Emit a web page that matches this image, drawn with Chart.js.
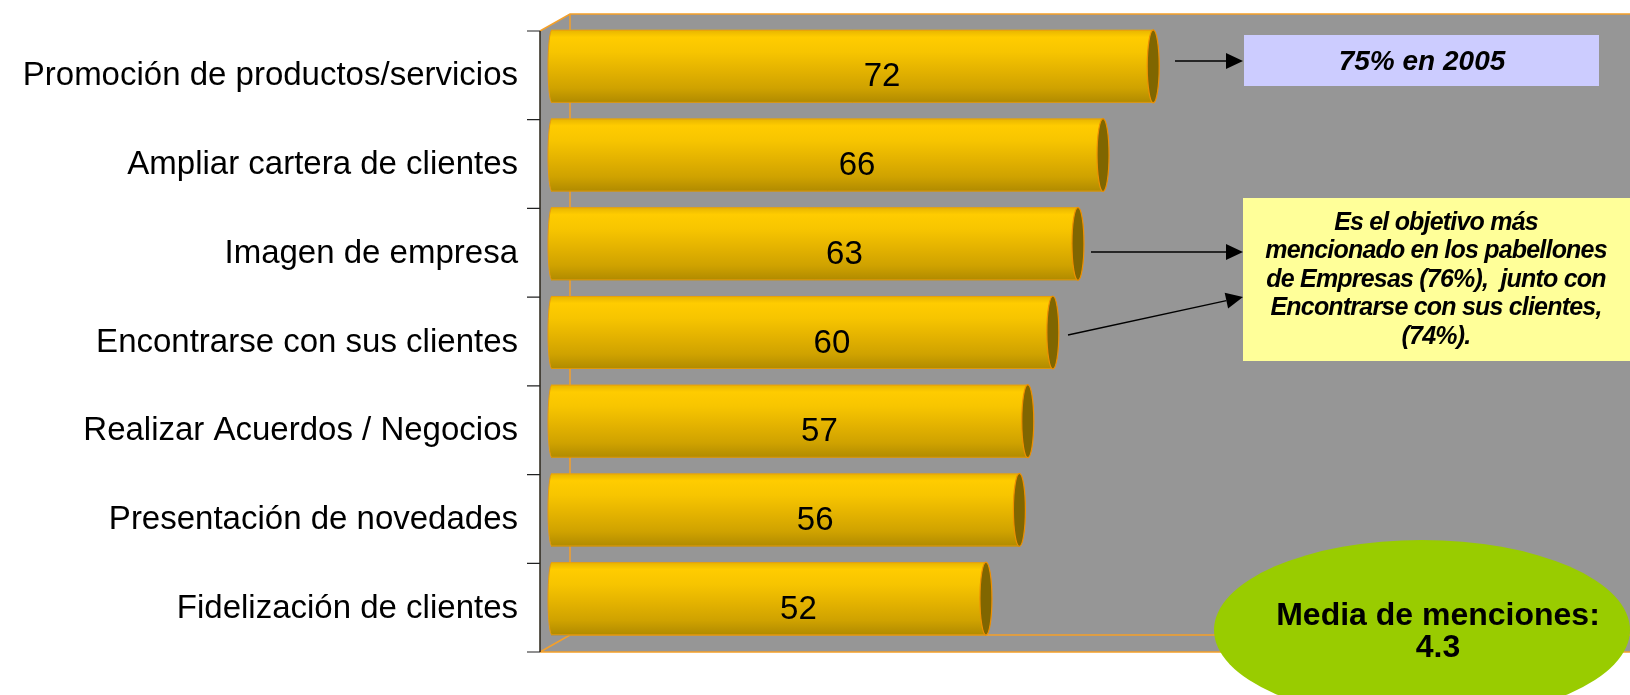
<!DOCTYPE html>
<html>
<head>
<meta charset="utf-8">
<script src="https://cdn.jsdelivr.net/npm/chart.js@4.4.1/dist/chart.umd.min.js"></script>
<style>
  html, body { margin: 0; padding: 0; background: #ffffff; }
  #c { display: block; }
</style>
</head>
<body>
<canvas id="c" width="1630" height="695"></canvas>
<script>
// Objetivos de participación (% de menciones)
const categories = [
  'Promoción de productos/servicios',
  'Ampliar cartera de clientes',
  'Imagen de empresa',
  'Encontrarse con sus clientes',
  'Realizar Acuerdos / Negocios',
  'Presentación de novedades',
  'Fidelización de clientes'
];
const values = [72, 66, 63, 60, 57, 56, 52];
const axisMax = 129;

const noteTop = '75% en 2005';
const noteSide = [
  'Es el objetivo más',
  'mencionado en los pabellones',
  'de Empresas (76%),  junto con',
  'Encontrarse con sus clientes,',
  '(74%).'
];
const meanLines = ['Media de menciones:', '4.3'];

const FONT = '"Liberation Sans", Arial, Helvetica, sans-serif';
const BAR_PCT = 0.823;
const WALL_GREY = '#969696';
const EDGE_ORANGE = '#F5A028';

function barGradient(ctx2d, yTop, yBot) {
  const g = ctx2d.createLinearGradient(0, yTop, 0, yBot);
  g.addColorStop(0.00, '#E6B400');
  g.addColorStop(0.10, '#FFCC00');
  g.addColorStop(0.30, '#F7C500');
  g.addColorStop(0.55, '#E4B300');
  g.addColorStop(0.80, '#CFA200');
  g.addColorStop(1.00, '#B08A00');
  return g;
}

function barFill(context) {
  const chart = context.chart;
  const ys = chart.scales.y;
  if (!ys || context.dataIndex === undefined || ys.bottom === undefined) return '#F2C200';
  const yc = ys.getPixelForValue(context.dataIndex);
  const h = (ys.bottom - ys.top) / categories.length * BAR_PCT;
  return barGradient(chart.ctx, yc - h / 2, yc + h / 2);
}

// 3-D box: back wall, side wall, floor, axis line and tick marks
const wallsPlugin = {
  id: 'walls',
  beforeDatasetsDraw(chart) {
    const ctx = chart.ctx;
    const a = chart.chartArea;
    const W = chart.width;
    const fx = a.left - 11, bx = a.left + 19;
    const ft = a.top + 9, bt = a.top - 8;
    const fb = a.bottom + 9, bb = a.bottom - 8;
    ctx.save();
    ctx.fillStyle = WALL_GREY;
    ctx.beginPath();
    ctx.moveTo(fx, ft); ctx.lineTo(bx, bt); ctx.lineTo(W, bt);
    ctx.lineTo(W, fb); ctx.lineTo(fx, fb); ctx.closePath();
    ctx.fill();

    ctx.strokeStyle = EDGE_ORANGE;
    ctx.lineWidth = 1.5;
    ctx.beginPath();
    ctx.moveTo(fx, ft); ctx.lineTo(bx, bt); ctx.lineTo(W, bt);
    ctx.moveTo(bx, bt); ctx.lineTo(bx, bb); ctx.lineTo(W, bb);
    ctx.moveTo(fx, fb); ctx.lineTo(bx, bb);
    ctx.moveTo(fx, fb); ctx.lineTo(W, fb);
    ctx.stroke();

    ctx.strokeStyle = '#2a2418';
    ctx.lineWidth = 1.5;
    ctx.beginPath();
    ctx.moveTo(fx, ft); ctx.lineTo(fx, fb);
    ctx.stroke();

    ctx.strokeStyle = '#222222';
    ctx.lineWidth = 1.2;
    ctx.beginPath();
    const n = categories.length;
    for (let i = 0; i <= n; i++) {
      const y = ft + (fb - ft) * i / n;
      ctx.moveTo(fx - 13, y); ctx.lineTo(fx, y);
    }
    ctx.stroke();
    ctx.restore();
  }
};

// Cylinder ends and value labels
const cylinderPlugin = {
  id: 'cylinder',
  afterDatasetsDraw(chart) {
    const ctx = chart.ctx;
    const meta = chart.getDatasetMeta(0);
    ctx.save();
    meta.data.forEach((el, i) => {
      const h = el.height;
      const top = el.y - h / 2, bot = el.y + h / 2;
      const base = el.base, x = el.x;

      // rounded near end
      ctx.beginPath();
      ctx.moveTo(base + 1, top);
      ctx.ellipse(base + 1, el.y, 4, h / 2, 0, -Math.PI / 2, Math.PI / 2, true);
      ctx.closePath();
      ctx.fillStyle = barGradient(ctx, top, bot);
      ctx.fill();
      ctx.strokeStyle = '#E89A10';
      ctx.lineWidth = 1;
      ctx.beginPath();
      ctx.ellipse(base + 1, el.y, 4, h / 2, 0, -Math.PI / 2, Math.PI / 2, true);
      ctx.stroke();

      // outline along the top and bottom
      ctx.strokeStyle = 'rgba(232,154,16,0.8)';
      ctx.beginPath();
      ctx.moveTo(base + 1, top + 0.5); ctx.lineTo(x, top + 0.5);
      ctx.moveTo(base + 1, bot - 0.5); ctx.lineTo(x, bot - 0.5);
      ctx.stroke();

      // dark far end
      ctx.beginPath();
      ctx.ellipse(x, el.y, 6, h / 2, 0, 0, Math.PI * 2);
      ctx.fillStyle = '#806600';
      ctx.fill();
      ctx.strokeStyle = '#F09000';
      ctx.lineWidth = 1.2;
      ctx.stroke();

      // value label
      ctx.fillStyle = '#000000';
      ctx.font = '33px ' + FONT;
      ctx.textAlign = 'center';
      ctx.textBaseline = 'middle';
      ctx.fillText(String(values[i]), (base + x) / 2 + 30, el.y + 11);
    });
    ctx.restore();
  }
};

function arrow(ctx, x1, y1, x2, y2) {
  const ang = Math.atan2(y2 - y1, x2 - x1);
  const L = 17, Wd = 8;
  const bxp = x2 - L * Math.cos(ang), byp = y2 - L * Math.sin(ang);
  ctx.strokeStyle = '#000000';
  ctx.lineWidth = 1.3;
  ctx.beginPath();
  ctx.moveTo(x1, y1); ctx.lineTo(bxp, byp);
  ctx.stroke();
  ctx.fillStyle = '#000000';
  ctx.beginPath();
  ctx.moveTo(x2, y2);
  ctx.lineTo(bxp + Wd * Math.sin(ang), byp - Wd * Math.cos(ang));
  ctx.lineTo(bxp - Wd * Math.sin(ang), byp + Wd * Math.cos(ang));
  ctx.closePath();
  ctx.fill();
}

// Notes, arrows and the average badge
const notesPlugin = {
  id: 'notes',
  afterDraw(chart) {
    const ctx = chart.ctx;
    ctx.save();

    // 2005 comparison
    ctx.fillStyle = '#CCCCFF';
    ctx.fillRect(1244, 35, 355, 51);
    ctx.fillStyle = '#000000';
    ctx.font = 'italic bold 28px ' + FONT;
    ctx.textAlign = 'center';
    ctx.textBaseline = 'middle';
    ctx.fillText(noteTop, 1422, 62);
    arrow(ctx, 1175, 61, 1243, 61);

    // exhibitors' note
    ctx.fillStyle = '#FFFF99';
    ctx.fillRect(1243, 198, 387, 163);
    ctx.fillStyle = '#000000';
    ctx.font = 'italic bold 25px ' + FONT;
    if ('letterSpacing' in ctx) ctx.letterSpacing = '-0.8px';
    noteSide.forEach((t, i) => ctx.fillText(t, 1436, 223 + i * 28.5));
    if ('letterSpacing' in ctx) ctx.letterSpacing = '0px';
    arrow(ctx, 1091, 252, 1243, 252);
    arrow(ctx, 1068, 335, 1243, 297);

    // average badge
    ctx.fillStyle = '#99CC00';
    ctx.beginPath();
    ctx.ellipse(1422, 630, 208, 90, 0, 0, Math.PI * 2);
    ctx.fill();
    ctx.fillStyle = '#000000';
    ctx.font = 'bold 32px ' + FONT;
    ctx.fillText(meanLines[0], 1438, 616);
    ctx.fillText(meanLines[1], 1438, 648);

    ctx.restore();
  }
};

new Chart(document.getElementById('c'), {
  type: 'bar',
  data: {
    labels: categories,
    datasets: [{
      data: values,
      backgroundColor: barFill,
      borderWidth: 0,
      categoryPercentage: 1,
      barPercentage: BAR_PCT
    }]
  },
  options: {
    indexAxis: 'y',
    responsive: false,
    animation: false,
    devicePixelRatio: 1,
    layout: { padding: { top: 22, bottom: 52, left: 0, right: 0 } },
    plugins: { legend: { display: false }, tooltip: { enabled: false } },
    scales: {
      x: { display: false, min: 0, max: axisMax },
      y: {
        afterFit(scale) {
          scale.width = 551;
          scale.paddingTop = 0;
          scale.paddingBottom = 0;
        },
        grid: { display: false, drawTicks: false },
        border: { display: false },
        ticks: {
          padding: 33,
          labelOffset: 10,
          color: '#000000',
          font: { family: FONT, size: 33 }
        }
      }
    }
  },
  plugins: [wallsPlugin, cylinderPlugin, notesPlugin]
});
</script>
</body>
</html>
